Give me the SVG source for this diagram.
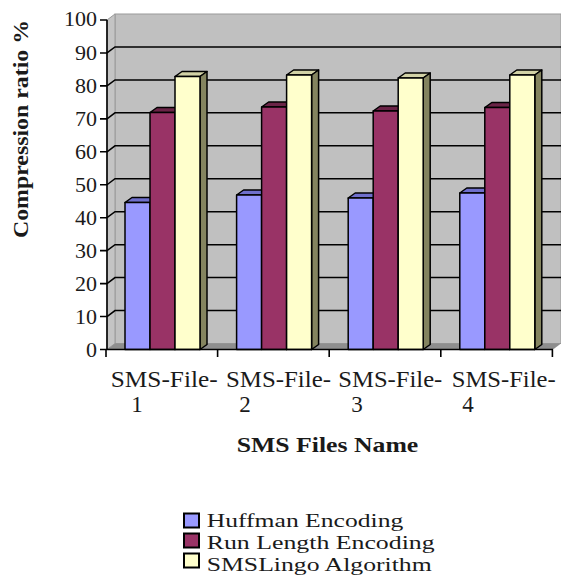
<svg xmlns="http://www.w3.org/2000/svg" width="561" height="579" viewBox="0 0 561 579">
<style>
text{font-family:'Liberation Serif','Times New Roman',Times,serif;fill:#1a1a1a}
.ylab{font-size:22px;text-anchor:end}
.xlab{font-size:23px}
.bold{font-weight:bold}
.grid{stroke:#000;stroke-width:1.5;fill:none}
.ax{stroke:#000;stroke-width:1.6;fill:none}
.bar{stroke:#000;stroke-width:1.5;stroke-linejoin:round}
.hf{fill:#9999FF}.ht{fill:#6f6fcc}
.rf{fill:#993366}.rt{fill:#6b2447}
.yf{fill:#FFFFCC}.yt{fill:#d2d2a6}.ys{fill:#84845f}
</style>
<rect width="561" height="579" fill="#fff"/>
<g id="plot-area">
<rect x="115" y="14" width="446" height="329.5" fill="#c0c0c0" stroke="#9a9a9a" stroke-width="1"/>
<polygon points="107,20 115,14 115,343.5 107,349.5" fill="#c4c4c4" stroke="#9a9a9a" stroke-width="1"/>
<polygon points="107,349.5 115,343.5 561,343.5 553,349.5" fill="#8e8e8e"/>
</g>
<g id="gridlines" class="grid">
<path d="M107,316.55 L115,310.55 H561 M107,283.6 L115,277.6 H561 M107,250.65 L115,244.65 H561 M107,217.7 L115,211.7 H561 M107,184.75 L115,178.75 H561 M107,151.8 L115,145.8 H561 M107,118.85 L115,112.85 H561 M107,85.9 L115,79.9 H561 M107,52.95 L115,46.95 H561"/>
</g>
<g id="bars">
<g id="file1">
<polygon class="bar ht" points="125,202.5 132,197.5 157,197.5 150,202.5"/>
<rect class="bar hf" x="125" y="202.5" width="25" height="147"/>
<polygon class="bar rt" points="150,112.5 157,107.5 182,107.5 175,112.5"/>
<polygon class="bar rt" points="175,112.5 182,107.5 182,344.5 175,349.5"/>
<rect class="bar rf" x="150" y="112.5" width="25" height="237"/>
<polygon class="bar yt" points="175,76.5 182,71.5 207,71.5 200,76.5"/>
<polygon class="bar ys" points="200,76.5 207,71.5 207,344.5 200,349.5"/>
<rect class="bar yf" x="175" y="76.5" width="25" height="273"/>
</g>
<g id="file2">
<polygon class="bar ht" points="236.6,195 243.6,190 268.6,190 261.6,195"/>
<rect class="bar hf" x="236.6" y="195" width="25" height="154.5"/>
<polygon class="bar rt" points="261.6,107 268.6,102 293.6,102 286.6,107"/>
<polygon class="bar rt" points="286.6,107 293.6,102 293.6,344.5 286.6,349.5"/>
<rect class="bar rf" x="261.6" y="107" width="25" height="242.5"/>
<polygon class="bar yt" points="286.6,75 293.6,70 318.6,70 311.6,75"/>
<polygon class="bar ys" points="311.6,75 318.6,70 318.6,344.5 311.6,349.5"/>
<rect class="bar yf" x="286.6" y="75" width="25" height="274.5"/>
</g>
<g id="file3">
<polygon class="bar ht" points="348.2,198 355.2,193 380.2,193 373.2,198"/>
<rect class="bar hf" x="348.2" y="198" width="25" height="151.5"/>
<polygon class="bar rt" points="373.2,111 380.2,106 405.2,106 398.2,111"/>
<polygon class="bar rt" points="398.2,111 405.2,106 405.2,344.5 398.2,349.5"/>
<rect class="bar rf" x="373.2" y="111" width="25" height="238.5"/>
<polygon class="bar yt" points="398.2,78 405.2,73 430.2,73 423.2,78"/>
<polygon class="bar ys" points="423.2,78 430.2,73 430.2,344.5 423.2,349.5"/>
<rect class="bar yf" x="398.2" y="78" width="25" height="271.5"/>
</g>
<g id="file4">
<polygon class="bar ht" points="459.8,193 466.8,188 491.8,188 484.8,193"/>
<rect class="bar hf" x="459.8" y="193" width="25" height="156.5"/>
<polygon class="bar rt" points="484.8,107.5 491.8,102.5 516.8,102.5 509.8,107.5"/>
<polygon class="bar rt" points="509.8,107.5 516.8,102.5 516.8,344.5 509.8,349.5"/>
<rect class="bar rf" x="484.8" y="107.5" width="25" height="242"/>
<polygon class="bar yt" points="509.8,75 516.8,70 541.8,70 534.8,75"/>
<polygon class="bar ys" points="534.8,75 541.8,70 541.8,344.5 534.8,349.5"/>
<rect class="bar yf" x="509.8" y="75" width="25" height="274.5"/>
</g>
</g>
<g id="axes" class="ax">
<path d="M107,20 V349.5 M100,20 H107 M100,52.95 H107 M100,85.9 H107 M100,118.85 H107 M100,151.8 H107 M100,184.75 H107 M100,217.7 H107 M100,250.65 H107 M100,283.6 H107 M100,316.55 H107 M100,349.5 H553"/>
<path d="M106,349.5 V357 M217.6,349.5 V357 M329.2,349.5 V357 M440.8,349.5 V357 M552.4,349.5 V357"/>
</g>
<g id="y-labels">
<text class="ylab" x="97" y="26">100</text>
<text class="ylab" x="97" y="60">90</text>
<text class="ylab" x="97" y="93">80</text>
<text class="ylab" x="97" y="126">70</text>
<text class="ylab" x="97" y="159">60</text>
<text class="ylab" x="97" y="192">50</text>
<text class="ylab" x="97" y="225">40</text>
<text class="ylab" x="97" y="258">30</text>
<text class="ylab" x="97" y="291">20</text>
<text class="ylab" x="97" y="324">10</text>
<text class="ylab" x="97" y="357">0</text>
</g>
<g id="x-labels">
<text class="xlab" x="110.7" y="386.5" textLength="107" lengthAdjust="spacingAndGlyphs">SMS-File-</text>
<text class="xlab" x="226" y="386.5" textLength="105" lengthAdjust="spacingAndGlyphs">SMS-File-</text>
<text class="xlab" x="338.3" y="386.5" textLength="104" lengthAdjust="spacingAndGlyphs">SMS-File-</text>
<text class="xlab" x="451.7" y="386.5" textLength="104" lengthAdjust="spacingAndGlyphs">SMS-File-</text>
<text class="xlab" x="137" y="411.7" text-anchor="middle">1</text>
<text class="xlab" x="245" y="411.7" text-anchor="middle">2</text>
<text class="xlab" x="357" y="411.7" text-anchor="middle">3</text>
<text class="xlab" x="468" y="411.7" text-anchor="middle">4</text>
</g>
<g id="axis-titles">
<text class="bold" x="236.7" y="451.7" font-size="22" textLength="181.6" lengthAdjust="spacingAndGlyphs">SMS Files Name</text>
<text class="bold" transform="translate(28,238) rotate(-90)" x="0" y="0" font-size="20" textLength="218" lengthAdjust="spacingAndGlyphs">Compression ratio %</text>
</g>
<g id="legend">
<rect x="184" y="513.5" width="15" height="14" fill="#9999FF" stroke="#000" stroke-width="2"/>
<rect x="184" y="533.5" width="15" height="14" fill="#993366" stroke="#000" stroke-width="2"/>
<rect x="184" y="553.5" width="15" height="14" fill="#FFFFCC" stroke="#000" stroke-width="2"/>
<text x="206.7" y="526.7" font-size="19.5" textLength="196.6" lengthAdjust="spacingAndGlyphs">Huffman Encoding</text>
<text x="206.7" y="549" font-size="19.5" textLength="228" lengthAdjust="spacingAndGlyphs">Run Length Encoding</text>
<text x="206.7" y="571" font-size="19.5" textLength="225" lengthAdjust="spacingAndGlyphs">SMSLingo Algorithm</text>
</g>
</svg>
